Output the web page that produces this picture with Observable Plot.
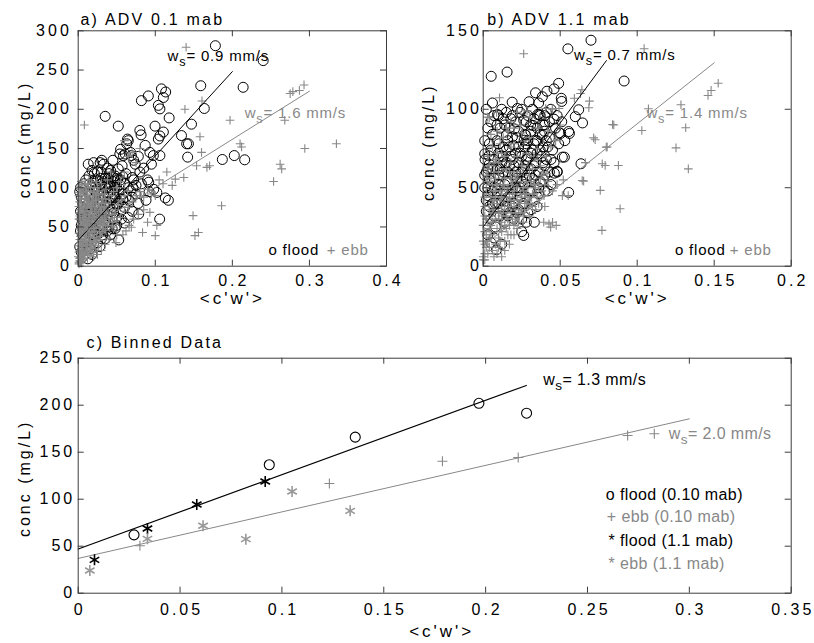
<!DOCTYPE html>
<html><head><meta charset="utf-8">
<script src="https://cdn.jsdelivr.net/npm/d3@7"></script>
<script src="https://cdn.jsdelivr.net/npm/@observablehq/plot@0.6"></script>
<style>
body{margin:0;background:#fff;}
#wrap{position:relative;width:814px;height:643px;background:#fff;}
#wrap svg{position:absolute;overflow:visible;}
</style></head><body><div id="wrap"></div>
<script>
// ---------- DATA ----------
// Panel a) ADV 0.1 mab : [<c'w'>, conc]
const aFlood = [
[0.178,281],[0.240,262],[0.159,230],[0.214,228],[0.108,226],[0.1135,222],[0.1105,215],[0.091,217],[0.082,211],[0.104,205],[0.106,200.5],[0.1636,201],
[0.035,191],[0.052,178.5],[0.118,189],[0.147,181],[0.0997,178.5],[0.080,173],[0.0816,167.4],[0.1105,171],[0.106,166],[0.104,162],[0.064,162],[0.063,156],
[0.134,166.5],[0.143,156],[0.087,154],[0.2025,141],[0.187,136],[0.216,135.6],[0.054,143],[0.0587,141],[0.069,141],[0.093,145],[0.0975,141],[0.106,141],
[0.0306,135],[0.142,139],[0.1407,156],[0.055,149],[0.074,130],[0.018,122],[0.021,118],[0.042,122],[0.046,113],[0.070,113],[0.0915,107],[0.075,103],
[0.098,98],[0.102,94],[0.113,87],[0.117,84],[0.088,84],[0.0785,66.6],[0.1057,60],[0.0526,33.5],[0.0125,9.4],[0.0285,132],[0.061,143],
[0.002,95],[0.004,88],[0.006,80],[0.003,70],[0.008,72],[0.010,85],[0.012,95],[0.015,90],[0.018,100],[0.020,108],[0.022,97],[0.025,110],[0.028,104],
[0.030,120],[0.032,98],[0.035,112],[0.038,105],[0.040,118],[0.042,95],[0.045,108],[0.048,115],[0.050,100],[0.052,124],[0.055,110],[0.058,92],[0.060,105],
[0.062,118],[0.065,100],[0.068,96],[0.070,88],[0.072,110],[0.075,92],[0.005,60],[0.008,55],[0.010,62],[0.012,50],[0.015,70],[0.018,65],[0.020,75],
[0.022,58],[0.025,80],[0.028,68],[0.030,85],[0.032,72],[0.035,78],[0.038,65],[0.040,82],[0.042,70],[0.045,75],[0.048,88],[0.050,62],[0.052,80],[0.055,70],
[0.058,85],[0.060,75],[0.062,88],[0.003,45],[0.006,40],[0.009,35],[0.012,30],[0.015,42],[0.018,38],[0.020,48],[0.024,45],[0.028,52],[0.032,40],[0.036,55],
[0.040,50],[0.044,60],[0.048,48],[0.002,25],[0.004,18],[0.006,12],[0.010,20],[0.015,22],[0.020,28],[0.025,30],[0.030,35],[0.013,130],[0.020,132],[0.038,125],
[0.045,135],[0.065,160],[0.068,145],[0.072,135],[0.078,140],[0.080,120],[0.085,125],[0.090,110],[0.095,130],[0.092,95],[0.082,105],[0.078,80],[0.070,70],
[0.065,62],[0.060,55],
[0.015,105],[0.025,120],[0.033,130],[0.040,100],[0.046,92],[0.053,95],[0.057,128],[0.034,88],[0.026,95],[0.019,85],[0.012,78],[0.006,66],[0.004,52],
[0.010,44],[0.024,64],[0.038,92],[0.044,85],[0.066,84],[0.071,100],[0.056,60],[0.050,52],[0.042,40],[0.035,35],[0.028,25],[0.018,15],
[0.003,100],[0.007,105],[0.010,110],[0.014,115],[0.017,92],[0.021,88],[0.023,102],[0.027,90],[0.029,112],[0.031,106],[0.033,92],[0.036,100],[0.039,112],
[0.041,104],[0.043,114],[0.047,100],[0.051,110],[0.054,104],[0.058,114],[0.016,78],[0.022,68],[0.026,74],[0.030,62],[0.034,70],[0.037,82],[0.041,76],
[0.046,68],[0.050,78],[0.054,86],[0.012,60],[0.017,55],[0.021,40],[0.027,42],[0.031,50],[0.038,45],[0.044,48]
];
const aEbb = [
[0.140,279],[0.293,231],[0.2785,222.5],[0.287,224],[0.275,220],[0.1606,210.6],[0.1385,200],[0.197,186],[0.268,186],[0.008,180],[0.158,165],[0.210,156],
[0.212,152],[0.160,145],[0.294,150],[0.335,156],[0.1705,128],[0.167,126],[0.262,130],[0.264,124],[0.2535,108],[0.137,113],[0.126,111],[0.186,77],
[0.149,64.5],[0.1515,39],[0.156,43],[0.100,39],[0.102,52],[0.0835,43],[0.090,56],[0.069,49.6],[0.049,30],[0.060,100],[0.122,103],[0.093,68.6],[0.1536,128],
[0.001,5],[0.002,10],[0.003,15],[0.002,20],[0.004,25],[0.003,30],[0.005,35],[0.004,40],[0.006,45],[0.005,50],[0.007,55],[0.006,60],[0.008,65],[0.007,70],
[0.009,75],[0.008,80],[0.010,85],[0.009,90],[0.011,95],[0.010,100],[0.012,105],[0.014,110],[0.006,8],[0.008,14],[0.010,20],[0.012,26],[0.014,32],[0.016,38],
[0.018,44],[0.020,50],[0.022,56],[0.024,62],[0.026,68],[0.028,74],[0.030,80],[0.032,86],[0.034,92],[0.036,98],[0.012,15],[0.016,22],[0.020,30],[0.024,36],
[0.028,42],[0.032,48],[0.036,55],[0.040,60],[0.044,66],[0.048,72],[0.052,78],[0.056,84],[0.060,90],[0.064,96],[0.015,60],[0.018,70],[0.020,80],[0.022,90],
[0.025,100],[0.028,58],[0.030,65],[0.033,72],[0.036,80],[0.040,85],[0.043,90],[0.046,95],[0.050,100],[0.038,110],[0.042,120],[0.030,105],[0.045,50],
[0.050,58],[0.055,62],[0.060,70],[0.065,75],[0.070,82],[0.075,90],[0.080,95],[0.085,88],[0.090,98],[0.095,92],[0.058,40],[0.062,45],[0.066,52],[0.072,60],
[0.078,66],[0.085,72],[0.040,35],[0.035,28],[0.050,40],[0.030,20],[0.025,15],[0.020,12],[0.010,40],[0.012,48],[0.015,52],[0.008,35],[0.055,108],[0.060,120],
[0.065,140],[0.070,145],[0.075,132],[0.080,150],[0.060,160],[0.100,90],[0.105,110],[0.110,105],[0.115,120],
[0.000,12],[0.001,18],[0.001,26],[0.002,34],[0.001,42],[0.002,48],[0.003,56],[0.002,64],[0.003,72],[0.004,78],[0.003,86],[0.005,92],[0.004,98],[0.006,104],
[0.003,6],[0.005,18],[0.004,52],[0.007,62],[0.006,74],[0.008,86],[0.007,96],[0.009,104],[0.011,58],[0.013,66],[0.012,78],[0.014,88],[0.016,96],[0.013,100],
[0.017,106],[0.019,56],[0.021,64],[0.023,72],[0.017,80],[0.019,86],[0.024,84],[0.026,92],[0.027,50],[0.031,58],[0.034,64],[0.037,70],[0.039,76],[0.042,80],
[0.009,28],[0.011,32],[0.013,36],[0.015,44],[0.017,48],[0.019,40],[0.021,44],[0.023,48],[0.027,34],[0.029,38],[0.031,44],[0.033,52],[0.035,46],[0.038,52],
[0.044,56],[0.047,62],[0.004,4],[0.007,10],[0.009,16],[0.011,22],[0.015,14],[0.018,18],[0.022,22],[0.026,26],[0.016,74],[0.021,100],[0.024,108],[0.027,96],
[0.031,92],[0.035,86],
[0.001,3],[0.002,7],[0.003,11],[0.004,14],[0.005,22],[0.006,26],[0.007,30],[0.008,38],[0.009,42],[0.010,46],[0.011,50],[0.012,54],[0.013,58],[0.014,62],
[0.015,66],[0.016,70],[0.017,76],[0.018,82],[0.019,90],[0.020,94],[0.001,60],[0.002,68],[0.001,76],[0.002,82],[0.001,90],[0.003,94],[0.002,100],[0.004,108],
[0.005,70],[0.006,56],[0.004,46],[0.003,38],[0.005,28],[0.009,58],[0.010,68],[0.011,80],[0.012,90],[0.013,84],[0.015,78],[0.017,58],[0.019,64],[0.021,70],
[0.023,78],[0.022,84],[0.024,92],[0.026,80],[0.027,86],[0.029,70],[0.030,76],[0.032,80],[0.034,76],[0.036,68],[0.025,56],[0.027,62],[0.029,54],[0.032,60],
[0.034,56],[0.016,32],[0.018,28],[0.021,36],[0.023,32],[0.014,20],[0.012,10],[0.017,24],[0.008,50],[0.007,42]
];
const aFitFlood = [[0, 33], [0.2, 248]];
const aFitEbb = [[0, 39], [0.3, 223]];

// Panel b) ADV 1.1 mab
const bFlood = [
[0.070,144],[0.055,138.5],[0.0052,121],[0.0155,123.7],[0.0915,118],[0.049,116.5],[0.0414,111.5],[0.046,113],[0.034,110.5],[0.0384,108],[0.0188,104.5],
[0.0298,104.8],[0.0222,100.5],[0.0507,107],[0.051,105],[0.062,99.7],[0.0598,95.3],[0.0645,91.3],[0.009,90],[0.0203,87.5],[0.0263,93],[0.0324,89.7],
[0.0151,83.7],[0.0354,96.7],[0.0397,86],[0.0555,85.8],[0.0493,85],[0.0101,78],[0.0197,77],[0.0527,69.5],[0.0462,59.3],[0.048,60.5],[0.0635,65.3],
[0.0555,47],[0.001,71.6],[0.0037,70.3],[0.0012,68],[0.0332,28],[0.0263,19.6],[0.025,22],[0.0086,10.5],[0.0093,96.7],[0.0363,96.7],[0.046,93.7],
[0.0308,90],[0.056,84.6],[0.0503,84.6],[0.0384,83.5],[0.019,82.5],[0.0276,83.5],[0.0266,80.3],[0.0514,69.5],[0.0481,60],
[0.002,60],[0.004,55],[0.006,62],[0.008,50],[0.010,58],[0.012,66],[0.014,52],[0.016,60],[0.018,70],[0.020,64],[0.022,56],[0.024,72],[0.026,62],[0.028,68],
[0.030,58],[0.032,74],[0.034,66],[0.036,60],[0.038,70],[0.040,64],[0.042,76],[0.044,68],[0.003,45],[0.006,40],[0.009,48],[0.012,42],[0.015,38],[0.018,46],
[0.021,50],[0.024,44],[0.027,52],[0.030,48],[0.033,42],[0.036,50],[0.039,55],[0.042,48],[0.002,35],[0.005,30],[0.008,25],[0.011,32],[0.014,28],[0.017,34],
[0.020,30],[0.023,36],[0.026,40],[0.029,34],[0.010,72],[0.013,76],[0.016,80],[0.022,82],[0.028,78],[0.034,80],[0.040,90],[0.044,100],[0.048,96],[0.005,15],
[0.003,20],[0.007,18],[0.012,14],
[0.001,50],[0.002,42],[0.004,65],[0.007,56],[0.009,62],[0.011,70],[0.013,60],[0.015,74],[0.017,64],[0.019,58],[0.021,72],[0.023,66],[0.025,54],[0.027,76],
[0.029,70],[0.031,62],[0.033,78],[0.035,72],[0.037,84],[0.039,76],[0.041,68],[0.043,82],[0.045,74],[0.047,88],[0.049,78],[0.051,92],[0.053,80],[0.014,90],
[0.018,94],[0.024,98],[0.028,92],[0.032,100],[0.036,104],[0.040,96],[0.012,100],[0.006,84],[0.004,78],[0.008,40],[0.016,44],[0.024,50],[0.032,56],[0.040,58],
[0.046,66],[0.020,40],[0.028,44],[0.036,46],[0.044,52],
[0.001,80],[0.003,88],[0.005,92],[0.007,96],[0.002,100],[0.006,104],[0.010,96],[0.011,88],[0.013,94],[0.015,98],[0.017,88],[0.019,96],[0.021,92],[0.023,86],
[0.025,100],[0.027,84],[0.029,96],[0.031,86],[0.033,94],[0.035,88],[0.037,96],[0.039,90],[0.041,98],[0.043,92],[0.001,58],[0.003,62],[0.005,74],[0.007,68],
[0.009,80],[0.011,62],[0.013,70],[0.015,66],[0.017,76],[0.019,68],[0.021,60],[0.023,76],[0.025,70],[0.027,64],[0.029,80],[0.031,72],[0.033,64],[0.035,80],
[0.037,74],[0.039,66],[0.041,80],[0.003,50],[0.006,48],[0.010,52],[0.013,48],[0.016,54],[0.019,50],[0.022,48],[0.025,60],[0.028,56],[0.031,48],[0.034,58],
[0.037,54],[0.040,48],[0.043,60],[0.004,38],[0.007,32],[0.010,40],[0.013,36],[0.016,32],[0.019,38],[0.022,34],[0.025,30],[0.028,28],[0.031,36],[0.035,38]
];
const bEbb = [
[0.0263,135.4],[0.1045,138.6],[0.0641,112.4],[0.069,105.2],[0.0592,107],[0.0686,101],[0.0106,107.3],[0.0087,98],[0.0028,95],[0.0285,99],[0.045,100],
[0.1073,100.3],[0.1284,102.9],[0.146,108.8],[0.148,112],[0.1526,116.6],[0.1315,88.2],[0.103,86.5],[0.084,90.3],[0.0717,81.8],[0.0727,80.6],[0.0799,75.9],
[0.1252,75.4],[0.1332,62],[0.0878,64.2],[0.0792,64.2],[0.0652,54.2],[0.0663,66],[0.076,48.3],[0.0889,36.6],[0.0771,22.8],[0.0474,26],[0.045,28],[0.0393,28],
[0.0414,59],[0.052,55],[0.0552,45],[0.0632,110],[0.0039,94.6],[0.0492,100.5],[0.0449,100.5],[0.0406,100.5],[0.0848,90],[0.0805,76],[0.0773,65.3],
[0.0643,54.6],[0.0427,27],[0.0438,24.9],[0.0395,45],[0.0514,45],
[0.001,8],[0.002,12],[0.003,16],[0.002,20],[0.004,24],[0.003,28],[0.005,32],[0.004,36],[0.006,40],[0.005,44],[0.007,48],[0.006,52],[0.008,56],[0.010,60],
[0.006,10],[0.008,14],[0.010,18],[0.012,22],[0.014,26],[0.016,30],[0.018,34],[0.020,38],[0.022,42],[0.024,46],[0.026,50],[0.028,54],[0.030,58],[0.010,12],
[0.014,16],[0.018,20],[0.022,24],[0.026,28],[0.030,32],[0.034,36],[0.016,42],[0.020,48],[0.012,44],[0.014,50],[0.008,30],[0.010,34],[0.012,38],[0.015,62],
[0.018,66],[0.022,70],[0.025,64],[0.028,72],[0.032,62],[0.035,68],[0.038,58],[0.040,52],[0.035,75],[0.030,82],[0.025,85],[0.020,78],[0.012,72],[0.008,68],
[0.004,64],[0.032,46],[0.036,40],[0.028,40],[0.024,34],[0.020,26],[0.040,38],[0.045,48],[0.048,52],[0.018,92],[0.022,98],[0.030,95],
[0.000,6],[0.001,14],[0.001,22],[0.002,30],[0.001,38],[0.002,46],[0.003,54],[0.002,58],[0.004,12],[0.005,20],[0.006,28],[0.007,36],[0.008,44],[0.009,52],
[0.007,60],[0.009,8],[0.011,16],[0.012,28],[0.013,34],[0.015,24],[0.016,36],[0.017,44],[0.019,30],[0.021,34],[0.023,40],[0.025,44],[0.027,46],[0.029,50],
[0.031,54],[0.033,52],[0.017,14],[0.020,20],[0.023,28],[0.027,36],[0.031,40],[0.035,44],[0.038,48],[0.042,54],[0.014,56],[0.011,48],[0.015,46],[0.019,52],
[0.022,58],[0.026,60],[0.029,64],[0.033,70],[0.037,64],[0.041,70],[0.044,76],[0.047,80],[0.010,66],[0.014,70],[0.018,76],[0.006,76],[0.003,70],[0.005,84],
[0.009,86],[0.015,88],[0.024,90],[0.036,88],[0.042,86],[0.050,90],
[0.000,16],[0.000,26],[0.001,32],[0.001,44],[0.002,50],[0.000,4],[0.001,4],[0.003,8],[0.004,18],[0.005,26],[0.006,34],[0.007,42],[0.008,48],[0.009,40],
[0.010,30],[0.011,24],[0.012,32],[0.013,42],[0.014,38],[0.015,32],[0.016,20],[0.017,26],[0.018,40],[0.019,46],[0.020,42],[0.021,28],[0.022,32],[0.023,36],
[0.024,40],[0.025,36],[0.026,32],[0.027,40],[0.028,46],[0.029,42],[0.030,44],[0.032,38],[0.033,46],[0.034,50],[0.036,52],[0.037,56],[0.039,60],[0.012,6],
[0.014,10],[0.007,6],[0.009,24],[0.011,42],[0.013,52],[0.016,50],[0.018,56],[0.020,60],[0.022,50],[0.024,54],[0.021,54],[0.017,60],[0.005,56],[0.003,62],
[0.007,66],[0.009,72],[0.011,78],[0.013,82],[0.016,86],[0.020,88]
];
const bFitFlood = [[0, 25], [0.08, 131]];
const bFitEbb = [[0, 13], [0.15, 129.6]];

// Panel c) Binned Data
const cFlood010 = [[0.0274,62.1],[0.0938,136.6],[0.136,166],[0.1967,202],[0.2201,191.5]];
const cEbb010 = [[0.0303,50.4],[0.1233,116.7],[0.1788,140.4],[0.216,144.4],[0.2697,167.8],[0.2828,169.6]];
const cFlood11 = [[0.008,35.5],[0.034,68.8],[0.0582,94.4],[0.0918,118.8]];
const cEbb11 = [[0.0057,24.1],[0.034,57.8],[0.0613,71.7],[0.0823,57.5],[0.105,108.2],[0.1335,87.6]];
const cFitFlood = [[0, 47], [0.22, 221]];
const cFitEbb = [[0, 37], [0.3, 185.5]];

// Tick values
const aXTicks = [0, 0.1, 0.2, 0.3, 0.4];
const aYTicks = [0, 50, 100, 150, 200, 250, 300];
const bXTicks = [0, 0.05, 0.1, 0.15, 0.2];
const bYTicks = [0, 50, 100, 150];
const cXTicks = [0, 0.05, 0.1, 0.15, 0.2, 0.25, 0.3, 0.35];
const cYTicks = [0, 50, 100, 150, 200, 250];

// Texts
const titles = ["a) ADV 0.1 mab", "b) ADV 1.1 mab", "c) Binned Data"];
const xLabel = "<c'w'>";
const yLabel = "conc (mg/L)";
const aNotes = [{x: 0.116, y: 267.6, t: "w_s= 0.9 mm/s", c: "k"}, {x: 0.216, y: 194.4, t: "w_s= 1.6 mm/s", c: "g"},
                {x: 0.2469, y: 20.6, t: "o flood", c: "k"}, {x: 0.3225, y: 20.6, t: "+ ebb", c: "g"}];
const bNotes = [{x: 0.059, y: 134.2, t: "w_s= 0.7 mm/s", c: "k"}, {x: 0.106, y: 97.5, t: "w_s= 1.4 mm/s", c: "g"},
                {x: 0.1245, y: 10.3, t: "o flood", c: "k"}, {x: 0.1601, y: 10.3, t: "+ ebb", c: "g"}];
const cNotes = [{x: 0.2283, y: 227.4, t: "w_s= 1.3 mm/s", c: "k"}, {x: 0.2899, y: 169.7, t: "w_s= 2.0 mm/s", c: "g"},
                {x: 0.259, y: 104.8, t: "o flood (0.10 mab)", c: "k"}, {x: 0.2595, y: 80.7, t: "+ ebb (0.10 mab)", c: "g"},
                {x: 0.2603, y: 55.9, t: "* flood (1.1 mab)", c: "k"}, {x: 0.2603, y: 31.4, t: "* ebb (1.1 mab)", c: "g"}];

// ---------- STYLE ----------
const FONT = "'Liberation Sans', Arial, Helvetica, sans-serif";
const BLACK = "#000";
const GRAY = "#888888";
const AXC = "#3c3c3c";
const colorOf = c => c === "k" ? BLACK : GRAY;
const LS = {"<c'w'>": 3, "conc (mg/L)": 3, "a) ADV 0.1 mab": 2.2, "b) ADV 1.1 mab": 2.2, "c) Binned Data": 2.2};

function post(svg, noteLS) {
  const s = d3.select(svg);
  s.selectAll('g[aria-label="x-axis tick label"] text, g[aria-label="y-axis tick label"] text').attr("letter-spacing", "3px");
  s.selectAll("text").each(function () {
    const t = this.textContent;
    if (LS[t] != null) this.setAttribute("letter-spacing", LS[t] + "px");
    if (t === "<c'w'>") this.setAttribute("font-size", "17px");
    const isNote = t.startsWith("w_s") || t.startsWith("o flood") || t.startsWith("+ ebb") || t.startsWith("* ");
    if (isNote) this.setAttribute("letter-spacing", noteLS + "px");
    if (t.startsWith("w_s")) {
      const rest = t.slice(3);
      const el = d3.select(this);
      el.text(null);
      el.append("tspan").text("w");
      el.append("tspan").attr("dy", "5").attr("font-size", "0.85em").text("s");
      el.append("tspan").attr("dy", "-5").text(rest);
    }
  });
}

function panel(cfg) {
  const {left, top, width, height, mL, mR, mT, mB} = cfg;
  const iw = width - mL - mR, ih = height - mT - mB;
  const svg = Plot.plot({
    width, height, marginLeft: mL, marginRight: mR, marginTop: mT, marginBottom: mB,
    x: {domain: cfg.xDomain}, y: {domain: cfg.yDomain},
    style: {fontFamily: FONT, fontSize: "16px", color: "#000", background: "transparent", overflow: "visible"},
    marks: [
      ...cfg.marks,
      Plot.text(cfg.notes, {x: "x", y: "y", text: "t", fill: d => colorOf(d.c), textAnchor: "start", lineAnchor: "middle", fontSize: cfg.noteSize}),
      Plot.frame({stroke: AXC}),
      Plot.tickX(cfg.xTicks, {x: d => d, insetTop: ih - 6, stroke: AXC}),
      Plot.tickX(cfg.xTicks, {x: d => d, insetBottom: ih - 6, stroke: AXC}),
      Plot.tickY(cfg.yTicks, {y: d => d, insetRight: iw - 6, stroke: AXC}),
      Plot.tickY(cfg.yTicks, {y: d => d, insetLeft: iw - 6, stroke: AXC}),
      Plot.axisX(cfg.xTicks, {tickSize: 0, tickPadding: cfg.xPad, dx: 1.5, tickFormat: d => String(d), label: null}),
      Plot.axisY(cfg.yTicks, {tickSize: 0, tickPadding: cfg.yPad, tickFormat: d => String(d), label: null}),
      Plot.text([cfg.title], {text: d => d, frameAnchor: "top-left", textAnchor: "start", lineAnchor: "middle", dx: cfg.titleDx, dy: cfg.titleDy}),
      Plot.text([xLabel], {text: d => d, frameAnchor: "bottom", textAnchor: "middle", lineAnchor: "middle", dx: cfg.xlDx, dy: cfg.xlDy}),
      Plot.text([yLabel], {text: d => d, frameAnchor: "left", rotate: -90, textAnchor: "middle", lineAnchor: "middle", dx: cfg.ylDx, dy: cfg.ylDy})
    ]
  });
  svg.style.left = left + "px";
  svg.style.top = top + "px";
  document.getElementById("wrap").appendChild(svg);
  post(svg, cfg.noteLS);
}

const P = () => ({x: d => d[0], y: d => d[1]});

panel({
  left: 0, top: 0, width: 400, height: 310, mL: 77.7, mR: 14, mT: 30.3, mB: 44.3,
  xDomain: [0, 0.4], yDomain: [0, 300], xTicks: aXTicks, yTicks: aYTicks, xPad: 8.5, yPad: 6.4,
  title: titles[0], titleDx: 2.3, titleDy: -11.4, xlDx: 0, xlDy: 32.5, ylDx: -53.2, ylDy: -9,
  notes: aNotes, noteSize: 15, noteLS: 0.8,
  marks: [
    Plot.dot(aFlood, {...P(), r: 5, stroke: BLACK, fill: "none", strokeWidth: 1}),
    Plot.dot(aEbb, {...P(), symbol: "plus", r: 2.9, stroke: GRAY, strokeWidth: 1.1}),
    Plot.line(aFitFlood, {...P(), stroke: BLACK, strokeWidth: 1}),
    Plot.line(aFitEbb, {...P(), stroke: GRAY, strokeWidth: 1})
  ]
});

panel({
  left: 400, top: 0, width: 414, height: 310, mL: 82.7, mR: 23.3, mT: 30.3, mB: 44.3,
  xDomain: [0, 0.2], yDomain: [0, 150], xTicks: bXTicks, yTicks: bYTicks, xPad: 8.5, yPad: 1.4,
  title: titles[1], titleDx: 4, titleDy: -11.4, xlDx: 0, xlDy: 32.5, ylDx: -54.5, ylDy: -6.3,
  notes: bNotes, noteSize: 15, noteLS: 0.8,
  marks: [
    Plot.dot(bFlood, {...P(), r: 5, stroke: BLACK, fill: "none", strokeWidth: 1}),
    Plot.dot(bEbb, {...P(), symbol: "plus", r: 2.9, stroke: GRAY, strokeWidth: 1.1}),
    Plot.line(bFitFlood, {...P(), stroke: BLACK, strokeWidth: 1}),
    Plot.line(bFitEbb, {...P(), stroke: GRAY, strokeWidth: 1})
  ]
});

panel({
  left: 0, top: 310, width: 814, height: 333, mL: 77.7, mR: 23.3, mT: 47.7, mB: 50.3,
  xDomain: [0, 0.35], yDomain: [0, 250], xTicks: cXTicks, yTicks: cYTicks, xPad: 10.5, yPad: 3,
  title: titles[2], titleDx: 8.3, titleDy: -15.8, xlDx: 7, xlDy: 38, ylDx: -53.2, ylDy: 2.6,
  notes: cNotes, noteSize: 16, noteLS: 0.4,
  marks: [
    Plot.line(cFitFlood, {...P(), stroke: BLACK, strokeWidth: 1.2}),
    Plot.line(cFitEbb, {...P(), stroke: GRAY, strokeWidth: 1}),
    Plot.dot(cFlood010, {...P(), r: 5, stroke: BLACK, fill: "none", strokeWidth: 1.1}),
    Plot.dot(cEbb010, {...P(), symbol: "plus", r: 3.3, stroke: GRAY, strokeWidth: 1.1}),
    Plot.dot(cFlood11, {...P(), symbol: "asterisk", r: 5.2, stroke: BLACK, strokeWidth: 1.6}),
    Plot.dot(cEbb11, {...P(), symbol: "asterisk", r: 5.2, stroke: "#999", strokeWidth: 1.6})
  ]
});
</script></body></html>
